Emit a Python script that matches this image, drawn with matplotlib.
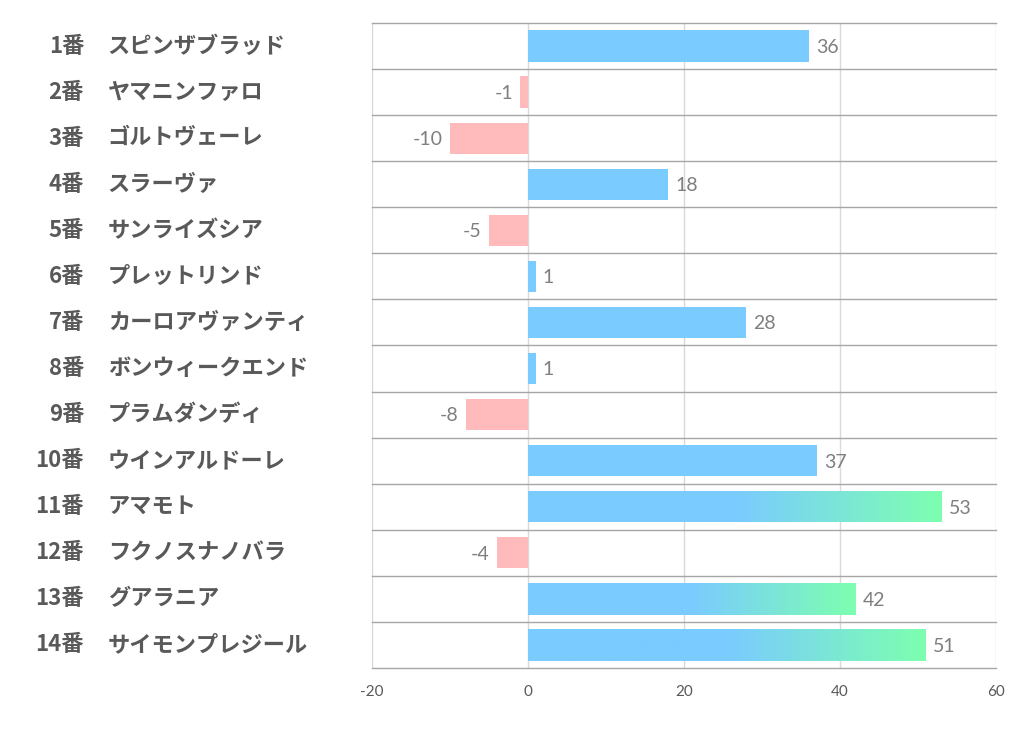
import numpy as np
import matplotlib.pyplot as plt
from matplotlib.colors import LinearSegmentedColormap

plt.rcParams['font.family'] = ['Noto Sans CJK JP', 'DejaVu Sans']

numbers = ['1番', '2番', '3番', '4番', '5番', '6番', '7番', '8番', '9番', '10番',
           '11番', '12番', '13番', '14番']
names = ['スピンザブラッド', 'ヤマニンファロ', 'ゴルトヴェーレ', 'スラーヴァ', 'サンライズシア',
         'プレットリンド', 'カーロアヴァンティ', 'ボンウィークエンド', 'プラムダンディ',
         'ウインアルドーレ', 'アマモト', 'フクノスナノバラ', 'グアラニア', 'サイモンプレジール']
values = [36, -1, -10, 18, -5, 1, 28, 1, -8, 37, 53, -4, 42, 51]

blue = '#7ACBFF'
green = '#7DFFB0'
pink = '#FFBBBB'
grad = LinearSegmentedColormap.from_list('g', [blue, blue, green])
numfont = ['Lato', 'DejaVu Sans']

fig = plt.figure(figsize=(10.22, 7.3), dpi=100)
ax = fig.add_axes([0.364, 0.085, 0.6106, 0.8835])

n = len(values)
ys = np.arange(n)
h = 0.68
for y, v in zip(ys, values):
    if v < 0:
        ax.barh(y, v, height=h, color=pink, zorder=2)
        ax.text(v - 0.9, y + 0.03, str(v), ha='right', va='center', fontsize=14,
                color='#7F7F7F', family=numfont)
    else:
        bars = ax.barh(y, v, height=h, color=blue, zorder=2)
        if v > 40:
            g = grad(np.linspace(0, 1, 256))[None, :, :]
            im = ax.imshow(g, extent=(0, v, y + h, y - h), aspect='auto',
                           zorder=2.5, interpolation='bilinear')
            im.set_clip_path(bars[0])
        ax.text(v + 0.9, y + 0.03, str(v), ha='left', va='center', fontsize=14,
                color='#7F7F7F', family=numfont)

ax.set_xlim(-20, 60)
ax.set_ylim(n - 0.5, -0.5)
ax.set_xticks([-20, 0, 20, 40, 60])
ax.tick_params(axis='x', length=0, labelsize=11, labelcolor='#595959', pad=12)
ax.set_yticks([])
ax.set_xticklabels(['-20', '0', '20', '40', '60'], family=numfont)

for x in [-20, 0, 20, 40, 60]:
    ax.axvline(x, color='#D9D9D9', lw=1, zorder=1)
for b in np.arange(-0.5, n, 1):
    ax.axhline(b, color='#A6A6A6', lw=1, zorder=3, clip_on=False)
for s in ax.spines.values():
    s.set_visible(False)

for y, num, name in zip(ys, numbers, names):
    ax.text(-0.4615, y, num, transform=ax.get_yaxis_transform(), ha='right', va='center',
            fontsize=16, fontweight='bold', color='#595959')
    ax.text(-0.4235, y, name, transform=ax.get_yaxis_transform(), ha='left', va='center',
            fontsize=16, fontweight='bold', color='#595959')

fig.savefig('out.png', dpi=100)
